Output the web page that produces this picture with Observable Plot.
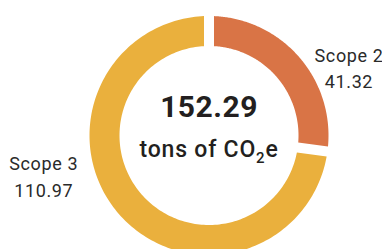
<!DOCTYPE html>
<html>
<head>
<meta charset="utf-8">
<script src="https://cdn.jsdelivr.net/npm/d3@7"></script>
<script src="https://cdn.jsdelivr.net/npm/@observablehq/plot@0.6"></script>
<style>
  html, body { margin: 0; padding: 0; background: #fff; }
  #chart svg { display: block; }
</style>
</head>
<body>
<div id="chart"></div>
<script>
// ---- data ----
const categories = ["Scope 2", "Scope 3"];
const values = [41.32, 110.97];
const colors = ["#d97446", "#eab03d"];
const unitLabel = "tons of CO₂e";

// ---- layout ----
const W = 382, H = 249;
const cx = 208.5, cy = 135;          // donut centre in px
const outerR = 119.5, innerR = 89.5, gap = 10;
const labelAngleDeg = [63.8, 256.5];
const labelRadius = [156, 170];

const total = d3.sum(values);
const slices = [];
let acc = 0;
categories.forEach((key, i) => {
  const a0 = acc / total * 2 * Math.PI;
  acc += values[i];
  const a1 = acc / total * 2 * Math.PI;
  slices.push({key, value: values[i], a0, a1});
});

const pt = (a, r) => ({x: r * Math.sin(a), y: -r * Math.cos(a)});
const ringPts = [];
const N = 180;
slices.forEach(s => {
  const p = gap / 2;
  const ao = Math.asin(p / outerR), ai = Math.asin(p / innerR);
  for (let k = 0; k <= N; k++) {
    const a = s.a0 + ao + (s.a1 - ao - (s.a0 + ao)) * k / N;
    ringPts.push({key: s.key, ...pt(a, outerR)});
  }
  for (let k = 0; k <= N; k++) {
    const a = s.a1 - ai + ((s.a0 + ai) - (s.a1 - ai)) * k / N;
    ringPts.push({key: s.key, ...pt(a, innerR)});
  }
});

const labels = slices.map((s, i) => ({
  ...s,
  ...pt(labelAngleDeg[i] * Math.PI / 180, labelRadius[i])
}));

const centre = [{x: 0, y: 0}];

const plot = Plot.plot({
  width: W,
  height: H,
  margin: 0,
  style: {fontFamily: "Roboto, 'Noto Sans', sans-serif", background: "#fff"},
  x: {domain: [-cx, W - cx], range: [0, W], axis: null},
  y: {domain: [-cy, H - cy], range: [0, H], axis: null},
  color: {domain: categories, range: colors},
  marks: [
    Plot.line(ringPts, {x: "x", y: "y", z: "key", fill: "key", stroke: "none"}),
    Plot.text(centre, {x: "x", y: "y", text: () => total.toFixed(2), fontSize: 30, fontWeight: "bold", fill: "#231f20", dy: -28}),
    Plot.text(centre, {x: "x", y: "y", text: () => unitLabel, fontSize: 23, fontWeight: 500, fill: "#231f20", dy: 14}),
    Plot.text(labels, {x: "x", y: "y", text: d => `${d.key}\n${d.value.toFixed(2)}`, fontSize: 18, lineHeight: 1.48, fill: "#2a2a2a"})
  ]
});

// letter spacing tweaks and subscript
const groups = plot.querySelectorAll('g[aria-label="text"]');
if (groups[0]) groups[0].setAttribute("letter-spacing", "0.5");
if (groups[1]) groups[1].setAttribute("letter-spacing", "0.8");
if (groups[2]) groups[2].setAttribute("letter-spacing", "0.6");
plot.querySelectorAll("text").forEach(t => {
  if (t.textContent.includes("₂")) {
    const [a, b] = t.textContent.split("₂");
    t.textContent = "";
    const ns = "http://www.w3.org/2000/svg";
    const t1 = document.createElementNS(ns, "tspan"); t1.textContent = a;
    const t2 = document.createElementNS(ns, "tspan"); t2.textContent = "2";
    t2.setAttribute("font-size", "15"); t2.setAttribute("dy", "6");
    const t3 = document.createElementNS(ns, "tspan"); t3.textContent = b;
    t3.setAttribute("dy", "-6");
    t.append(t1, t2, t3);
  }
});

document.getElementById("chart").append(plot);
</script>
</body>
</html>
